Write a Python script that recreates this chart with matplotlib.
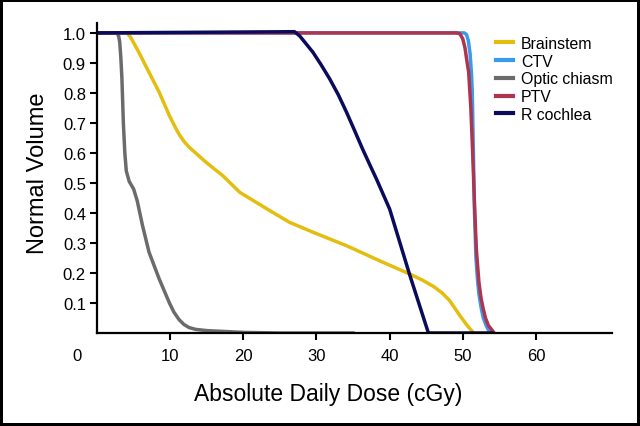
import numpy as np
import matplotlib
matplotlib.use("Agg")
import matplotlib.pyplot as plt

plt.rcParams['font.family'] = ['Liberation Sans', 'DejaVu Sans']

# Dose-volume histogram curves (dose in cGy, fraction of volume)
brainstem_x = [0, 4.1, 4.6, 5.1, 5.7, 7.1, 8.5, 9.9, 10.6, 11.2, 11.9, 12.6, 14.9, 17.2, 19.5,
               23.6, 26.3, 29.5, 34.1, 38.6, 42.7, 44.5, 46.0, 47.2, 48.2, 49.6, 50.6, 51.2, 51.5]
brainstem_y = [1.0, 1.0, 0.985, 0.963, 0.936, 0.869, 0.802, 0.724, 0.69, 0.663, 0.638, 0.619,
               0.569, 0.524, 0.469, 0.408, 0.369, 0.336, 0.291, 0.241, 0.197, 0.176, 0.155,
               0.133, 0.108, 0.058, 0.025, 0.008, 0.0]

ctv_x = [0, 50.2, 50.5, 50.75, 51.0, 51.2, 51.3, 51.45, 51.6, 51.8, 52.0, 52.2, 52.5, 52.8,
         53.2, 53.5, 54.0]
ctv_y = [1.0, 1.0, 0.995, 0.975, 0.93, 0.86, 0.80, 0.60, 0.40, 0.25, 0.18, 0.13, 0.085, 0.05,
         0.025, 0.01, 0.0]

optic_x = [0, 2.7, 2.95, 3.1, 3.25, 3.4, 3.6, 3.8, 4.0, 4.4, 5.0, 5.5, 6.2, 7.1, 8.5, 9.9,
           10.5, 11.2, 11.9, 12.6, 13.5, 15.0, 20.0, 25.0, 35.0]
optic_y = [1.0, 1.0, 0.99, 0.97, 0.92, 0.85, 0.70, 0.60, 0.54, 0.505, 0.48, 0.44, 0.36, 0.27,
           0.18, 0.10, 0.07, 0.045, 0.028, 0.018, 0.012, 0.008, 0.002, 0.0, 0.0]

ptv_x = [0, 49.2, 49.6, 50.0, 50.3, 50.6, 50.8, 51.1, 51.35, 51.6, 51.85, 52.2, 52.5, 52.8,
         53.1, 53.5, 54.3]
ptv_y = [1.0, 1.0, 0.997, 0.98, 0.95, 0.90, 0.87, 0.75, 0.60, 0.43, 0.28, 0.17, 0.115, 0.08,
         0.05, 0.025, 0.0]

cochlea_x = [0, 27.0, 27.7, 28.5, 29.5, 30.6, 31.8, 33.0, 34.1, 35.2, 36.3, 37.3, 38.2, 40.0,
             42.7, 45.3, 54.0]
cochlea_y = [1.0, 1.004, 0.99, 0.966, 0.936, 0.895, 0.847, 0.793, 0.736, 0.675, 0.613, 0.56,
             0.513, 0.413, 0.197, 0.0, 0.0]

labels = ['Brainstem', 'CTV', 'Optic chiasm', 'PTV', 'R cochlea']
colors = ['#E3BE10', '#3A9BEA', '#6B6B6B', '#AE3550', '#0B0B5C']

fig = plt.figure(figsize=(6.4, 4.27), dpi=100, edgecolor='black', linewidth=3)
ax = fig.add_axes([0.1516, 0.2178, 0.8047, 0.726])

series = [(brainstem_x, brainstem_y), (ctv_x, ctv_y), (optic_x, optic_y),
          (ptv_x, ptv_y), (cochlea_x, cochlea_y)]
for (xs, ys), lab, col in zip(series, labels, colors):
    ax.plot(xs, ys, color=col, lw=2.5, label=lab, solid_joinstyle='round')

ax.set_xlim(0, 70.4)
ax.set_ylim(0, 1.033)
ax.spines['top'].set_visible(False)
ax.spines['right'].set_visible(False)
ax.spines['left'].set_linewidth(1.6)
ax.spines['bottom'].set_linewidth(1.6)

ax.set_xticks([10, 20, 30, 40, 50, 60])
ax.set_yticks(np.round(np.arange(0.1, 1.01, 0.1), 1))
ax.set_yticklabels(['%.1f' % v for v in np.arange(0.1, 1.01, 0.1)])
ax.tick_params(axis='both', direction='out', length=5, width=1.5, labelsize=12)
ax.tick_params(axis='x', pad=6)
ax.tick_params(axis='y', pad=3)
ax.text(-2.7, -0.05, '0', fontsize=12, ha='center', va='top', clip_on=False,
        transform=ax.get_xaxis_transform())

ax.set_xlabel('Absolute Daily Dose (cGy)', fontsize=16.5)
ax.xaxis.set_label_coords(0.449, -0.158)
ax.set_ylabel('Normal Volume', fontsize=17)
ax.yaxis.set_label_coords(-0.094, 0.52)

leg = ax.legend(loc='upper left', bbox_to_anchor=(0.775, 0.958), frameon=False, fontsize=11.4,
                handlelength=1.08, handletextpad=0.5, labelspacing=0.17, borderaxespad=0,
                borderpad=0)
for h in leg.get_lines():
    h.set_linewidth(3)

fig.savefig('out.png', dpi=100)
